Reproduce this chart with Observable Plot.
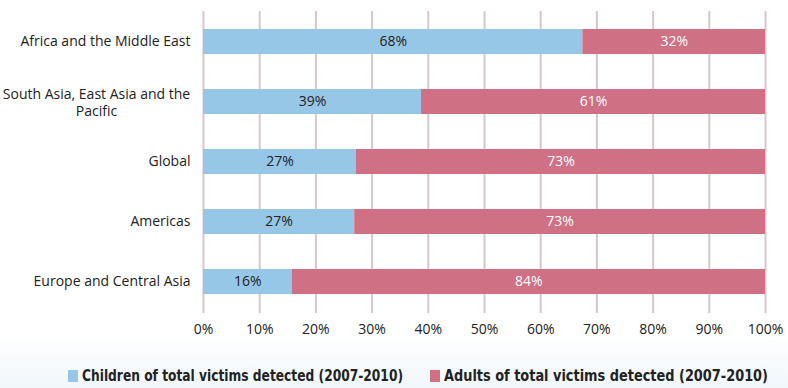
<!DOCTYPE html>
<html>
<head>
<meta charset="utf-8">
<script src="https://cdn.jsdelivr.net/npm/d3@7"></script>
<script src="https://cdn.jsdelivr.net/npm/@observablehq/plot@0.6"></script>
<style>
  html, body { margin: 0; padding: 0; }
  body {
    width: 788px; height: 388px; overflow: hidden; position: relative;
    background: linear-gradient(to bottom, #ffffff 0%, #ffffff 86%, #f1f7fb 100%);
    font-family: "Open Sans", "Noto Sans", sans-serif;
  }
  #chart svg { display: block; background: transparent; }
  .legend {
    position: absolute; top: 366px; left: 0; width: 788px;
    font-family: "DejaVu Sans", "Open Sans", sans-serif;
    font-stretch: condensed;
    font-weight: bold; font-size: 16px; color: #222;
  }
  .legend .item { position: absolute; white-space: nowrap; display: flex; align-items: center; }
  .legend .sw { width: 10px; height: 12px; margin-right: 4px; display: inline-block; flex: none; }
  .legend .txt { display: inline-block; transform-origin: left center; }
</style>
</head>
<body>
<div id="chart"></div>
<div class="legend" id="legend"></div>
<script>
const categories = [
  "Africa and the Middle East",
  "South Asia, East Asia and the Pacific",
  "Global",
  "Americas",
  "Europe and Central Asia"
];
const yLabels = [
  "Africa and the Middle East",
  "South Asia, East Asia and the\nPacific",
  "Global",
  "Americas",
  "Europe and Central Asia"
];
const children = [67.5, 38.8, 27.2, 26.9, 15.8];
const adults = [32.5, 61.2, 72.8, 73.1, 84.2];
const childLabels = ["68%", "39%", "27%", "27%", "16%"];
const adultLabels = ["32%", "61%", "73%", "73%", "84%"];
const xTicks = [0, 10, 20, 30, 40, 50, 60, 70, 80, 90, 100];
const series = [
  "Children of total victims detected (2007-2010)",
  "Adults of total victims detected (2007-2010)"
];
const colors = ["#96c7e7", "#cf7085"];

const rows = [];
categories.forEach((c, i) => {
  rows.push({region: c, series: series[0], value: children[i], label: childLabels[i]});
  rows.push({region: c, series: series[1], value: adults[i], label: adultLabels[i]});
});
const labelRows = categories.map((c, i) => ({region: c, text: yLabels[i], wrapped: yLabels[i].includes("\n")}));

const plot = Plot.plot({
  width: 788,
  height: 350,
  marginLeft: 203,
  marginRight: 23,
  marginTop: 11,
  marginBottom: 37,
  style: {fontFamily: "'Open Sans', 'Noto Sans', sans-serif", fontSize: "14px", color: "#222", background: "transparent"},
  x: {domain: [0, 100], ticks: xTicks, tickFormat: d => d + "%", label: null},
  y: {domain: categories, paddingInner: 0.58, paddingOuter: 0.29, label: null, axis: null},
  color: {domain: series, range: colors},
  marks: [
    Plot.ruleX(xTicks, {x: d => d, stroke: "#d7c7cc", strokeWidth: 2}),
    Plot.axisX({ticks: xTicks, tickFormat: d => d + "%", tickSize: 0, tickPadding: 11, fontSize: 14, fill: "#222", label: null}),
    Plot.barX(rows, Plot.stackX({x: "value", y: "region", fill: "series"})),
    Plot.text(rows, Plot.stackX({x: "value", y: "region", z: "series", text: d => d.series === series[0] ? d.label : "", fill: "#222", fontSize: 14})),
    Plot.text(rows, Plot.stackX({x: "value", y: "region", z: "series", text: d => d.series === series[1] ? d.label : "", fill: "white", fontSize: 14})),
    Plot.text(labelRows.filter(d => !d.wrapped), {y: "region", text: "text", frameAnchor: "left", textAnchor: "end", dx: -13, fill: "#222", fontSize: 14}),
    Plot.text(labelRows.filter(d => d.wrapped), {y: "region", text: "text", frameAnchor: "left", textAnchor: "middle", dx: -107, fill: "#222", fontSize: 14, lineHeight: 1.25})
  ]
});
document.getElementById("chart").appendChild(plot);

const legend = document.getElementById("legend");
const legendX = [68, 430];
const legendW = [321, 324];
series.forEach((s, i) => {
  const item = document.createElement("div");
  item.className = "item";
  item.style.left = legendX[i] + "px";
  const sw = document.createElement("span");
  sw.className = "sw";
  sw.style.background = colors[i];
  item.appendChild(sw);
  const t = document.createElement("span");
  t.className = "txt";
  t.textContent = s;
  item.appendChild(t);
  legend.appendChild(item);
  const w = t.getBoundingClientRect().width;
  if (w > 0) t.style.transform = `scaleX(${legendW[i] / w})`;
});
</script>
</body>
</html>
